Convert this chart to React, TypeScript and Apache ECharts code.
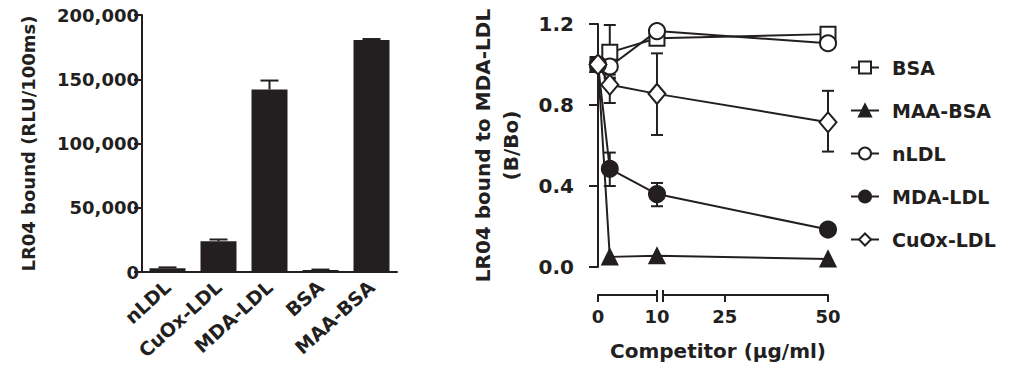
import React, { useEffect, useRef } from "react";
import * as echarts from "echarts";

// ---------- Left panel: bar chart ----------
const barCategories = ["nLDL", "CuOx-LDL", "MDA-LDL", "BSA", "MAA-BSA"];
const barValues = [3000, 24000, 142000, 1500, 180500];
const barErrorHigh = [3600, 25300, 149000, 1900, 181300];
const barYTicks = [0, 50000, 100000, 150000, 200000];

// ---------- Right panel: competition curves ----------
const competitorX = [0, 2, 10, 50];
const xTickLabelsSeg1 = [0, 10];
const xTickLabelsSeg2 = [25, 50];

const seriesNames = ["BSA", "MAA-BSA", "nLDL", "MDA-LDL", "CuOx-LDL"];
const bsaValues = [1.0, 1.06, 1.13, 1.15];
const maaBsaValues = [1.0, 0.05, 0.055, 0.04];
const nldlValues = [1.0, 0.99, 1.165, 1.105];
const mdaLdlValues = [1.0, 0.485, 0.36, 0.185];
const cuoxLdlValues = [1.0, 0.9, 0.855, 0.715];

// error bars as [low, high]; null where no bar is visible
const bsaErr = [null, [0.93, 1.195], [1.11, 1.15], [1.13, 1.17]];
const maaBsaErr = [null, null, null, null];
const nldlErr = [null, [0.95, 1.03], null, [1.09, 1.12]];
const mdaLdlErr = [null, [0.4, 0.565], [0.3, 0.415], [0.16, 0.21]];
const cuoxLdlErr = [null, [0.81, 0.935], [0.652, 1.055], [0.57, 0.87]];

const INK = "#231f20";
const FONT = "DejaVu Sans";

// broken x axis: 0..10 on one scale, gap, 10..50 compressed
const SEG_GAP = 1;
const SEG2_RATIO = 0.7;
const toAxis = (x: number) => (x <= 10 ? x : 10 + SEG_GAP + (x - 10) * SEG2_RATIO);

const fmtThousands = (v: number) => String(v).replace(/\B(?=(\d{3})+(?!\d))/g, ",");

export default function App() {
  const ref = useRef<HTMLDivElement>(null);

  useEffect(() => {
    if (!ref.current) return;
    const chart = echarts.init(ref.current, undefined, { renderer: "svg" });

    const lineDefs = [
      { name: seriesNames[0], vals: bsaValues, err: bsaErr, symbol: "rect", size: 15, fill: "#fff" },
      { name: seriesNames[1], vals: maaBsaValues, err: maaBsaErr, symbol: "triangle", size: 15, fill: INK },
      { name: seriesNames[2], vals: nldlValues, err: nldlErr, symbol: "circle", size: 16, fill: "#fff" },
      { name: seriesNames[3], vals: mdaLdlValues, err: mdaLdlErr, symbol: "circle", size: 16, fill: INK },
      { name: seriesNames[4], vals: cuoxLdlValues, err: cuoxLdlErr, symbol: "diamond", size: [17, 20], fill: "#fff" },
    ];

    const errData: any[] = [];
    lineDefs.forEach((d) => {
      d.err.forEach((e: any, i: number) => {
        if (e) errData.push([toAxis(competitorX[i]), e[0], e[1]]);
      });
    });

    const lineSeries = lineDefs.map((d) => ({
      name: d.name,
      type: "line",
      xAxisIndex: 0,
      yAxisIndex: 0,
      data: competitorX.map((x, i) => [toAxis(x), d.vals[i]]),
      symbol: d.symbol,
      symbolSize: d.size,
      showAllSymbol: true,
      clip: false,
      z: 3,
      lineStyle: { color: INK, width: 2 },
      itemStyle: { color: d.fill, borderColor: INK, borderWidth: 2 },
    }));

    const option: any = {
      animation: false,
      backgroundColor: "#ffffff",
      textStyle: { fontFamily: FONT, fontWeight: "bold", color: INK },
      grid: [
        { left: 577, top: 24, width: 251, height: 243 }, // right main plot
        { left: 598, top: 285, width: 59, height: 10 }, // x segment 1
        { left: 663, top: 285, width: 165, height: 10 }, // x segment 2
        { left: 142, top: 15, width: 255, height: 257 }, // left bar plot
      ],
      xAxis: [
        {
          gridIndex: 0,
          type: "value",
          min: toAxis(0) - 3.56,
          max: toAxis(50),
          show: false,
        },
        {
          gridIndex: 1,
          type: "value",
          min: 0,
          max: 10,
          interval: 10,
          position: "bottom",
          axisLine: { lineStyle: { color: INK, width: 2 } },
          axisTick: { show: true, length: 7, lineStyle: { color: INK, width: 2 } },
          axisLabel: {
            customValues: xTickLabelsSeg1,
            color: INK,
            fontSize: 18,
            fontWeight: "bold",
            fontFamily: FONT,
            margin: 12,
          },
          splitLine: { show: false },
        },
        {
          gridIndex: 2,
          type: "value",
          min: 10,
          max: 50,
          position: "bottom",
          axisLine: { lineStyle: { color: INK, width: 2 } },
          axisTick: { show: true, length: 7, customValues: [10, 25, 50], lineStyle: { color: INK, width: 2 } },
          axisLabel: {
            customValues: xTickLabelsSeg2,
            color: INK,
            fontSize: 18,
            fontWeight: "bold",
            fontFamily: FONT,
            margin: 12,
          },
          splitLine: { show: false },
        },
        {
          gridIndex: 3,
          type: "category",
          data: barCategories,
          axisLine: { lineStyle: { color: INK, width: 2 } },
          axisTick: { show: false },
          axisLabel: {
            rotate: 42,
            interval: 0,
            color: INK,
            fontSize: 19,
            fontWeight: "bold",
            fontFamily: FONT,
            margin: 12,
          },
        },
      ],
      yAxis: [
        {
          gridIndex: 0,
          type: "value",
          min: 0,
          max: 1.2,
          interval: 0.4,
          axisLine: { show: true, lineStyle: { color: INK, width: 2 } },
          axisTick: { show: true, length: 9, lineStyle: { color: INK, width: 2 } },
          axisLabel: {
            color: INK,
            fontSize: 20,
            fontWeight: "bold",
            fontFamily: FONT,
            margin: 3,
            formatter: (v: number) => v.toFixed(1),
          },
          splitLine: { show: false },
          name: "LR04 bound to MDA-LDL\n(B/Bo)",
          nameLocation: "middle",
          nameGap: 52,
          nameTextStyle: { color: INK, fontSize: 20, fontWeight: "bold", fontFamily: FONT, lineHeight: 28 },
        },
        { gridIndex: 1, type: "value", show: false },
        { gridIndex: 2, type: "value", show: false },
        {
          gridIndex: 3,
          type: "value",
          min: 0,
          max: 200000,
          interval: 50000,
          axisLine: { show: true, lineStyle: { color: INK, width: 2 } },
          axisTick: { show: true, length: 8, lineStyle: { color: INK, width: 2 } },
          axisLabel: {
            customValues: barYTicks,
            color: INK,
            fontSize: 18,
            fontWeight: "bold",
            fontFamily: FONT,
            margin: 3,
            formatter: (v: number) => fmtThousands(v),
          },
          splitLine: { show: false },
          name: "LR04 bound (RLU/100ms)",
          nameLocation: "middle",
          nameGap: 105,
          nameTextStyle: { color: INK, fontSize: 18, fontWeight: "bold", fontFamily: FONT },
        },
      ],
      legend: {
        orient: "vertical",
        left: 845,
        top: 53,
        itemWidth: 28,
        itemHeight: 15,
        itemGap: 24,
        data: seriesNames,
        textStyle: { color: INK, fontSize: 19, fontWeight: "bold", fontFamily: FONT, padding: [0, 0, 0, 8] },
      },
      graphic: [
        {
          type: "text",
          x: 718,
          y: 351,
          style: {
            text: "Competitor (\u03bcg/ml)",
            fill: INK,
            font: `bold 20px "${FONT}"`,
            align: "center",
            verticalAlign: "middle",
          },
        },
        { type: "line", shape: { x1: 657, y1: 290, x2: 657, y2: 295 }, style: { stroke: INK, lineWidth: 2 } },
        { type: "line", shape: { x1: 663, y1: 290, x2: 663, y2: 295 }, style: { stroke: INK, lineWidth: 2 } },
      ],
      series: [
        {
          type: "bar",
          xAxisIndex: 3,
          yAxisIndex: 3,
          data: barValues,
          barWidth: 36,
          itemStyle: { color: INK },
          z: 2,
        },
        {
          type: "custom",
          xAxisIndex: 3,
          yAxisIndex: 3,
          clip: false,
          z: 3,
          data: barCategories.map((c, i) => [i, barValues[i], barErrorHigh[i]]),
          renderItem: (params: any, api: any) => {
            const i = api.value(0);
            const p0 = api.coord([i, api.value(1)]);
            const p1 = api.coord([i, api.value(2)]);
            const w = 9;
            const st = { stroke: INK, lineWidth: 2 };
            return {
              type: "group",
              children: [
                { type: "line", shape: { x1: p0[0], y1: p0[1], x2: p1[0], y2: p1[1] }, style: st },
                { type: "line", shape: { x1: p1[0] - w, y1: p1[1], x2: p1[0] + w, y2: p1[1] }, style: st },
              ],
            };
          },
        },
        {
          type: "custom",
          xAxisIndex: 0,
          yAxisIndex: 0,
          clip: false,
          z: 1,
          data: errData,
          renderItem: (params: any, api: any) => {
            const x = api.value(0);
            const pLo = api.coord([x, api.value(1)]);
            const pHi = api.coord([x, api.value(2)]);
            const w = 6;
            const st = { stroke: INK, lineWidth: 2 };
            return {
              type: "group",
              children: [
                { type: "line", shape: { x1: pLo[0], y1: pLo[1], x2: pHi[0], y2: pHi[1] }, style: st },
                { type: "line", shape: { x1: pLo[0] - w, y1: pLo[1], x2: pLo[0] + w, y2: pLo[1] }, style: st },
                { type: "line", shape: { x1: pHi[0] - w, y1: pHi[1], x2: pHi[0] + w, y2: pHi[1] }, style: st },
              ],
            };
          },
        },
        ...lineSeries,
      ],
    };

    chart.setOption(option);
    return () => chart.dispose();
  }, []);

  return (
    <div
      ref={ref}
      style={{ position: "fixed", left: 0, top: 0, width: 1026, height: 368, background: "#fff" }}
    />
  );
}
